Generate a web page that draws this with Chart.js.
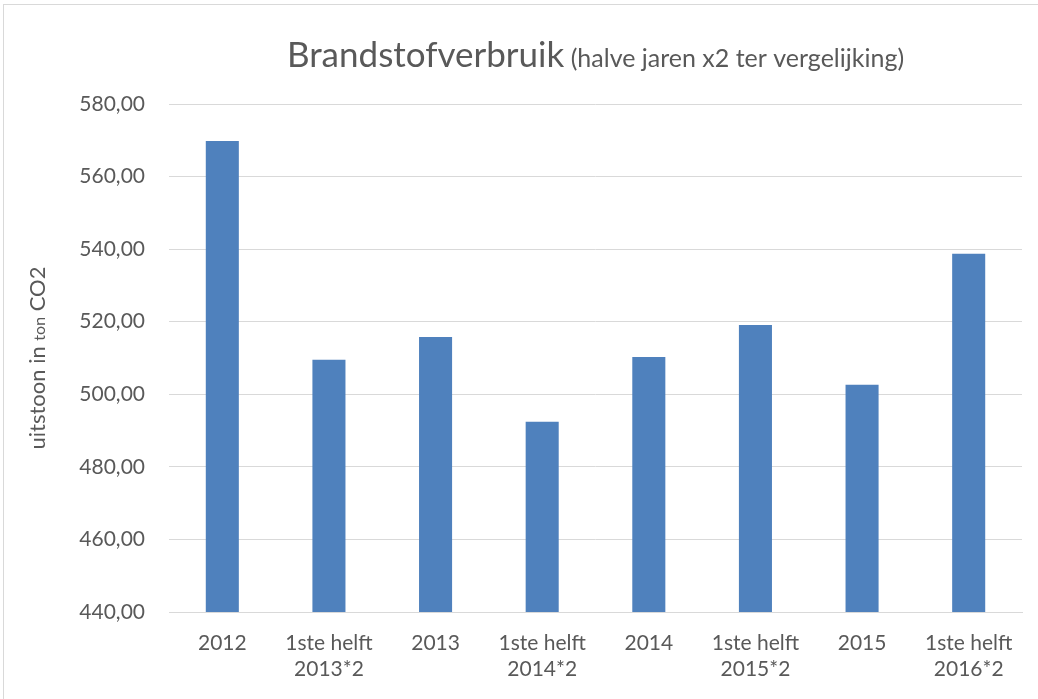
<!DOCTYPE html>
<html>
<head>
<meta charset="utf-8">
<script src="https://cdn.jsdelivr.net/npm/chart.js@4"></script>
<style>
  html, body { margin: 0; padding: 0; background: #fff; }
  #wrap { width: 1038px; height: 699px; position: relative; }
</style>
</head>
<body>
<div id="wrap"><canvas id="fuelChart" width="1038" height="699"></canvas></div>
<script>
// --- Data ---
const categories = [
    '2012', ['1ste helft', '2013*2'], '2013', ['1ste helft', '2014*2'],
    '2014', ['1ste helft', '2015*2'], '2015', ['1ste helft', '2016*2']
];
const emissions = [569.8, 509.5, 515.8, 492.4, 510.3, 519.1, 502.6, 538.7];
const yMin = 440;
const yMax = 580;
const yStep = 20;

const textColor = '#595959';
const gridColor = '#D9D9D9';
const barColor = '#4F81BD';
const fontFamily = 'Lato, "Open Sans", sans-serif';

// Title + axis title are drawn by hand because they mix two font sizes
const decorPlugin = {
    id: 'decor',
    beforeDraw(chart) {
        const ctx = chart.ctx;
        ctx.save();
        ctx.fillStyle = '#fff';
        ctx.fillRect(0, 0, chart.width, chart.height);
        ctx.strokeStyle = gridColor;
        ctx.lineWidth = 1;
        ctx.strokeRect(3.5, 4.5, chart.width + 10, chart.height + 10);
        ctx.restore();
    },
    afterDraw(chart) {
        const ctx = chart.ctx;
        const area = chart.chartArea;
        ctx.save();
        ctx.fillStyle = textColor;
        ctx.textBaseline = 'alphabetic';

        // title
        const mainText = 'Brandstofverbruik';
        const subText = ' (halve jaren x2 ter vergelijking)';
        const mainFont = '35px ' + fontFamily;
        const subFont = '25px ' + fontFamily;
        ctx.font = mainFont;
        const w1 = ctx.measureText(mainText).width;
        ctx.font = subFont;
        const w2 = ctx.measureText(subText).width;
        const cx = (area.left + area.right) / 2;
        let x = cx - (w1 + w2) / 2;
        const baseY = 67;
        ctx.textAlign = 'left';
        ctx.font = mainFont;
        ctx.fillText(mainText, x, baseY);
        ctx.font = subFont;
        ctx.fillText(subText, x + w1, baseY);

        // y axis title, rotated
        const parts = [
            { t: 'uitstoon in ', f: '22px ' + fontFamily },
            { t: 'ton', f: '16px ' + fontFamily },
            { t: ' CO2', f: '22px ' + fontFamily }
        ];
        let total = 0;
        parts.forEach(p => { ctx.font = p.f; p.w = ctx.measureText(p.t).width; total += p.w; });
        ctx.translate(45, (area.top + area.bottom) / 2);
        ctx.rotate(-Math.PI / 2);
        let px = -total / 2;
        parts.forEach(p => {
            ctx.font = p.f;
            ctx.fillText(p.t, px, 0);
            px += p.w;
        });
        ctx.restore();
    }
};

const ctx = document.getElementById('fuelChart').getContext('2d');
new Chart(ctx, {
    type: 'bar',
    data: {
        labels: categories,
        datasets: [{
            data: emissions,
            backgroundColor: barColor,
            borderWidth: 0,
            barPercentage: 1,
            categoryPercentage: 0.31
        }]
    },
    options: {
        responsive: false,
        animation: false,
        devicePixelRatio: 1,
        layout: { padding: { top: 104, right: 16, left: 0, bottom: 0 } },
        plugins: {
            legend: { display: false },
            title: { display: false },
            tooltip: { enabled: false }
        },
        scales: {
            x: {
                grid: { display: false, drawTicks: false },
                border: { color: gridColor, width: 1 },
                ticks: {
                    color: textColor,
                    font: { family: fontFamily, size: 21 },
                    padding: 19,
                    maxRotation: 0,
                    autoSkip: false
                },
                afterFit(scale) { scale.height = 699 - 612; }
            },
            y: {
                min: yMin,
                max: yMax,
                grid: { color: gridColor, lineWidth: 1, drawTicks: false },
                border: { display: false },
                ticks: {
                    stepSize: yStep,
                    color: textColor,
                    font: { family: fontFamily, size: 21 },
                    padding: 24,
                    callback: v => v.toFixed(2).replace('.', ',')
                },
                afterFit(scale) { scale.width = 169; }
            }
        }
    },
    plugins: [decorPlugin]
});
</script>
</body>
</html>
